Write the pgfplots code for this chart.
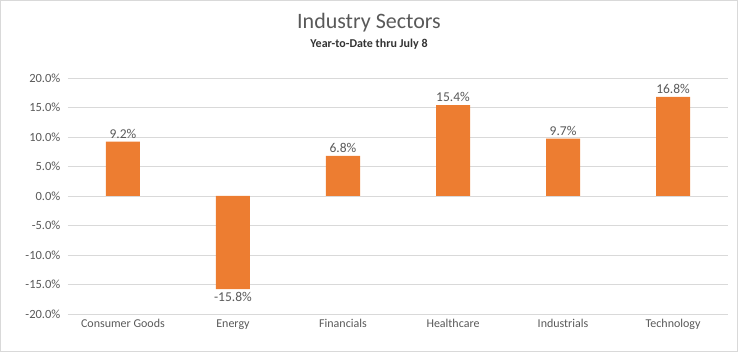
\documentclass[border=0pt]{standalone}
\usepackage{pgfplots}
\pgfplotsset{compat=1.18}
\usepackage{fontspec}
\setmainfont{Carlito}
\definecolor{barorange}{HTML}{ED7D31}
\definecolor{txtgray}{HTML}{595959}
\definecolor{gridgray}{HTML}{D9D9D9}
\begin{document}
\begin{tikzpicture}[x=1pt,y=1pt]
\draw[gridgray,line width=0.8pt] (0.5,0.5) rectangle (737.5,351.5);
\node[txtgray,font=\fontsize{22}{24}\selectfont] at (369,329) {Industry Sectors};
\node[black!80,font=\fontsize{12}{14}\selectfont\bfseries] at (369,308) {Year-to-Date thru July 8};
\begin{axis}[
  at={(68pt,38pt)}, anchor=south west,
  scale only axis, width=660pt, height=236pt,
  xmin=-0.5, xmax=5.5, ymin=-20, ymax=20,
  ytick={-20,-15,...,20},
  xtick={0,...,5},
  xticklabels={Consumer Goods,Energy,Financials,Healthcare,Industrials,Technology},
  axis line style={draw=none},
  major tick length=0pt,
  ymajorgrids, grid style={gridgray, line width=0.8pt},
  yticklabel={\pgfmathprintnumber[fixed,fixed zerofill,precision=1]{\tick}\%},
  /pgf/number format/assume math mode=true,
  yticklabel style={txtgray,font=\fontsize{12.5}{14}\selectfont, xshift=-4pt},
  xticklabel style={txtgray,font=\fontsize{12}{14}\selectfont, yshift=-2pt},
  ybar, bar width=34pt,
  nodes near coords={\pgfmathprintnumber[fixed,fixed zerofill,precision=1]{\pgfplotspointmeta}\%},
  nodes near coords align={vertical},
  every node near coord/.append style={txtgray,font=\fontsize{13.5}{15}\selectfont},
]
\addplot[fill=barorange, draw=none] coordinates {(0,9.2) (1,-15.8) (2,6.8) (3,15.4) (4,9.7) (5,16.8)};
\end{axis}
\end{tikzpicture}
\end{document}
